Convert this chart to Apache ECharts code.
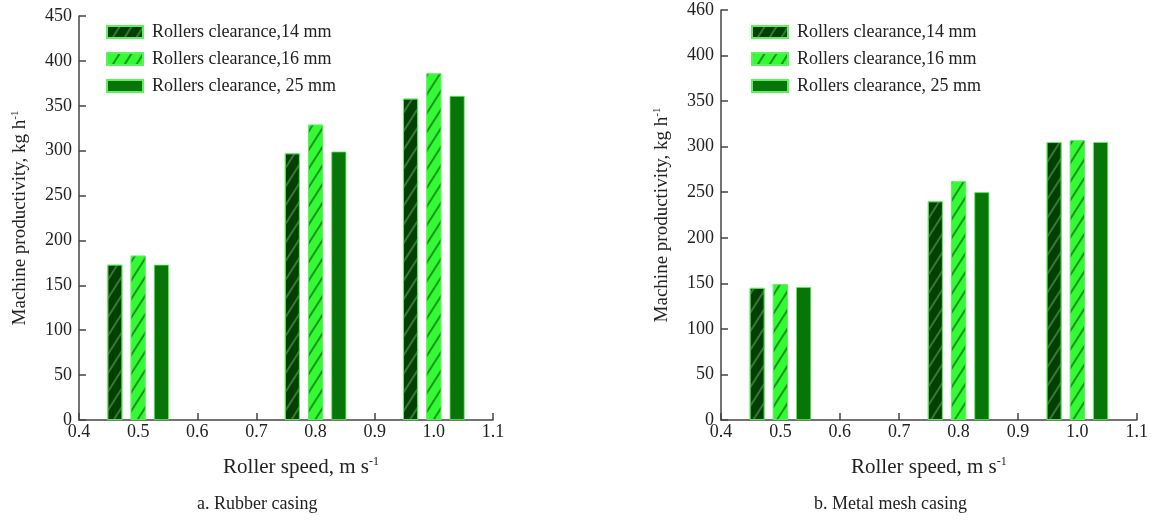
<!DOCTYPE html>
<html>
<head>
<meta charset="utf-8">
<script src="https://cdn.jsdelivr.net/npm/echarts@6/dist/echarts.min.js"></script>
<style>html,body{margin:0;padding:0;background:#fff}#c{width:1151px;height:520px}</style>
</head>
<body>
<div id="c"></div>
<script>
var speeds = [0.5, 0.8, 1.0];
var seriesNames = ['Rollers clearance,14 mm', 'Rollers clearance,16 mm', 'Rollers clearance, 25 mm'];
// a. Rubber casing
var rubber14 = [173, 297, 358];
var rubber16 = [183, 329, 386];
var rubber25 = [173, 299, 361];
// b. Metal mesh casing
var mesh14 = [145, 240, 305];
var mesh16 = [149, 262, 307];
var mesh25 = [146, 250, 305];
var xTickLabels = ['0.4', '0.5', '0.6', '0.7', '0.8', '0.9', '1.0', '1.1'];
var yTickLabelsA = ['0', '50', '100', '150', '200', '250', '300', '350', '400', '450'];
var yTickLabelsB = ['0', '50', '100', '150', '200', '250', '300', '350', '400', '460'];
var captions = ['a. Rubber casing', 'b. Metal mesh casing'];

var FONT = 'Liberation Serif';
var TXT = '#222';
var colors = ['#033f03', '#33fb33', '#077507'];
var decals = [
  {symbol: 'rect', symbolSize: 1, dashArrayX: [1, 0], dashArrayY: [1.2, 8], rotation: -Math.PI * 0.32, color: 'rgba(70,140,70,0.75)'},
  {symbol: 'rect', symbolSize: 1, dashArrayX: [1, 0], dashArrayY: [1.2, 8], rotation: -Math.PI * 0.32, color: 'rgba(25,135,25,0.9)'},
  null
];

function pairs(vals) { return speeds.map(function (s, i) { return [s, vals[i]]; }); }

function mkX(idx) {
  return {
    type: 'value', gridIndex: idx, min: 0.4, max: 1.1, interval: 0.1,
    name: 'Roller speed, m s{sup|-1}', nameLocation: 'middle', nameGap: 36,
    nameTextStyle: {fontFamily: FONT, fontSize: 21, color: TXT, padding: idx === 0 ? [0, 0, 0, 30] : 0,
      rich: {sup: {fontFamily: FONT, fontSize: 12, color: TXT, verticalAlign: 'top', padding: [0, 0, 10, 0]}}},
    axisLine: {show: true, onZero: false, lineStyle: {color: '#444', width: 1.5}},
    axisTick: {show: true, inside: true, length: 7, lineStyle: {color: '#444', width: 1.5}},
    axisLabel: {margin: 3, fontFamily: FONT, fontSize: 18, color: TXT, showMaxLabel: true, showMinLabel: true,
      formatter: function (v) { return xTickLabels[Math.round((v - 0.4) * 10)]; }},
    splitLine: {show: false}
  };
}
function mkY(idx, labels) {
  return {
    type: 'value', gridIndex: idx, min: 0, max: 450, interval: 50,
    name: 'Machine productivity, kg h{sup|-1}', nameLocation: 'middle', nameGap: 48,
    nameTextStyle: {fontFamily: FONT, fontSize: 19, color: TXT,
      rich: {sup: {fontFamily: FONT, fontSize: 11, color: TXT, verticalAlign: 'top', padding: [0, 0, 10, 0]}}},
    axisLine: {show: true, lineStyle: {color: '#444', width: 1.5}},
    axisTick: {show: true, inside: true, length: 7, lineStyle: {color: '#444', width: 1.5}},
    axisLabel: {margin: 7, fontFamily: FONT, fontSize: 18, color: TXT,
      formatter: function (v) { return labels[Math.round(v / 50)]; }},
    splitLine: {show: false}
  };
}
function mkSeries(idx, k, vals) {
  var style = {color: colors[k], borderColor: '#5ef05e', borderWidth: 0.8};
  if (decals[k]) style.decal = decals[k];
  return {
    type: 'bar', name: seriesNames[k], xAxisIndex: idx, yAxisIndex: idx,
    data: pairs(vals), barWidth: 15, barGap: '55%',
    itemStyle: style
  };
}
function mkLegend(left, top) {
  return {
    orient: 'vertical', left: left, top: top, itemWidth: 36, itemHeight: 12, itemGap: 9,
    icon: 'rect',
    textStyle: {fontFamily: FONT, fontSize: 18, color: TXT, padding: [0, 0, 0, 4]}, data: seriesNames, selectedMode: false
  };
}

var chart = echarts.init(document.getElementById('c'), null, {renderer: 'canvas'});
chart.setOption({
  animation: false,
  backgroundColor: '#fff',
  grid: [
    {left: 79, right: 658, top: 16, bottom: 100},
    {left: 721, right: 14, top: 10, bottom: 100}
  ],
  legend: [mkLegend(101, 18), mkLegend(746, 18)],
  xAxis: [mkX(0), mkX(1)],
  yAxis: [mkY(0, yTickLabelsA), mkY(1, yTickLabelsB)],
  series: [
    mkSeries(0, 0, rubber14), mkSeries(0, 1, rubber16), mkSeries(0, 2, rubber25),
    mkSeries(1, 0, mesh14), mkSeries(1, 1, mesh16), mkSeries(1, 2, mesh25)
  ],
  graphic: [
    {type: 'text', left: 197, top: 495, style: {text: captions[0], font: '18px "Liberation Serif"', fill: TXT}},
    {type: 'text', left: 814, top: 495, style: {text: captions[1], font: '18px "Liberation Serif"', fill: TXT}}
  ]
});
</script>
</body>
</html>
